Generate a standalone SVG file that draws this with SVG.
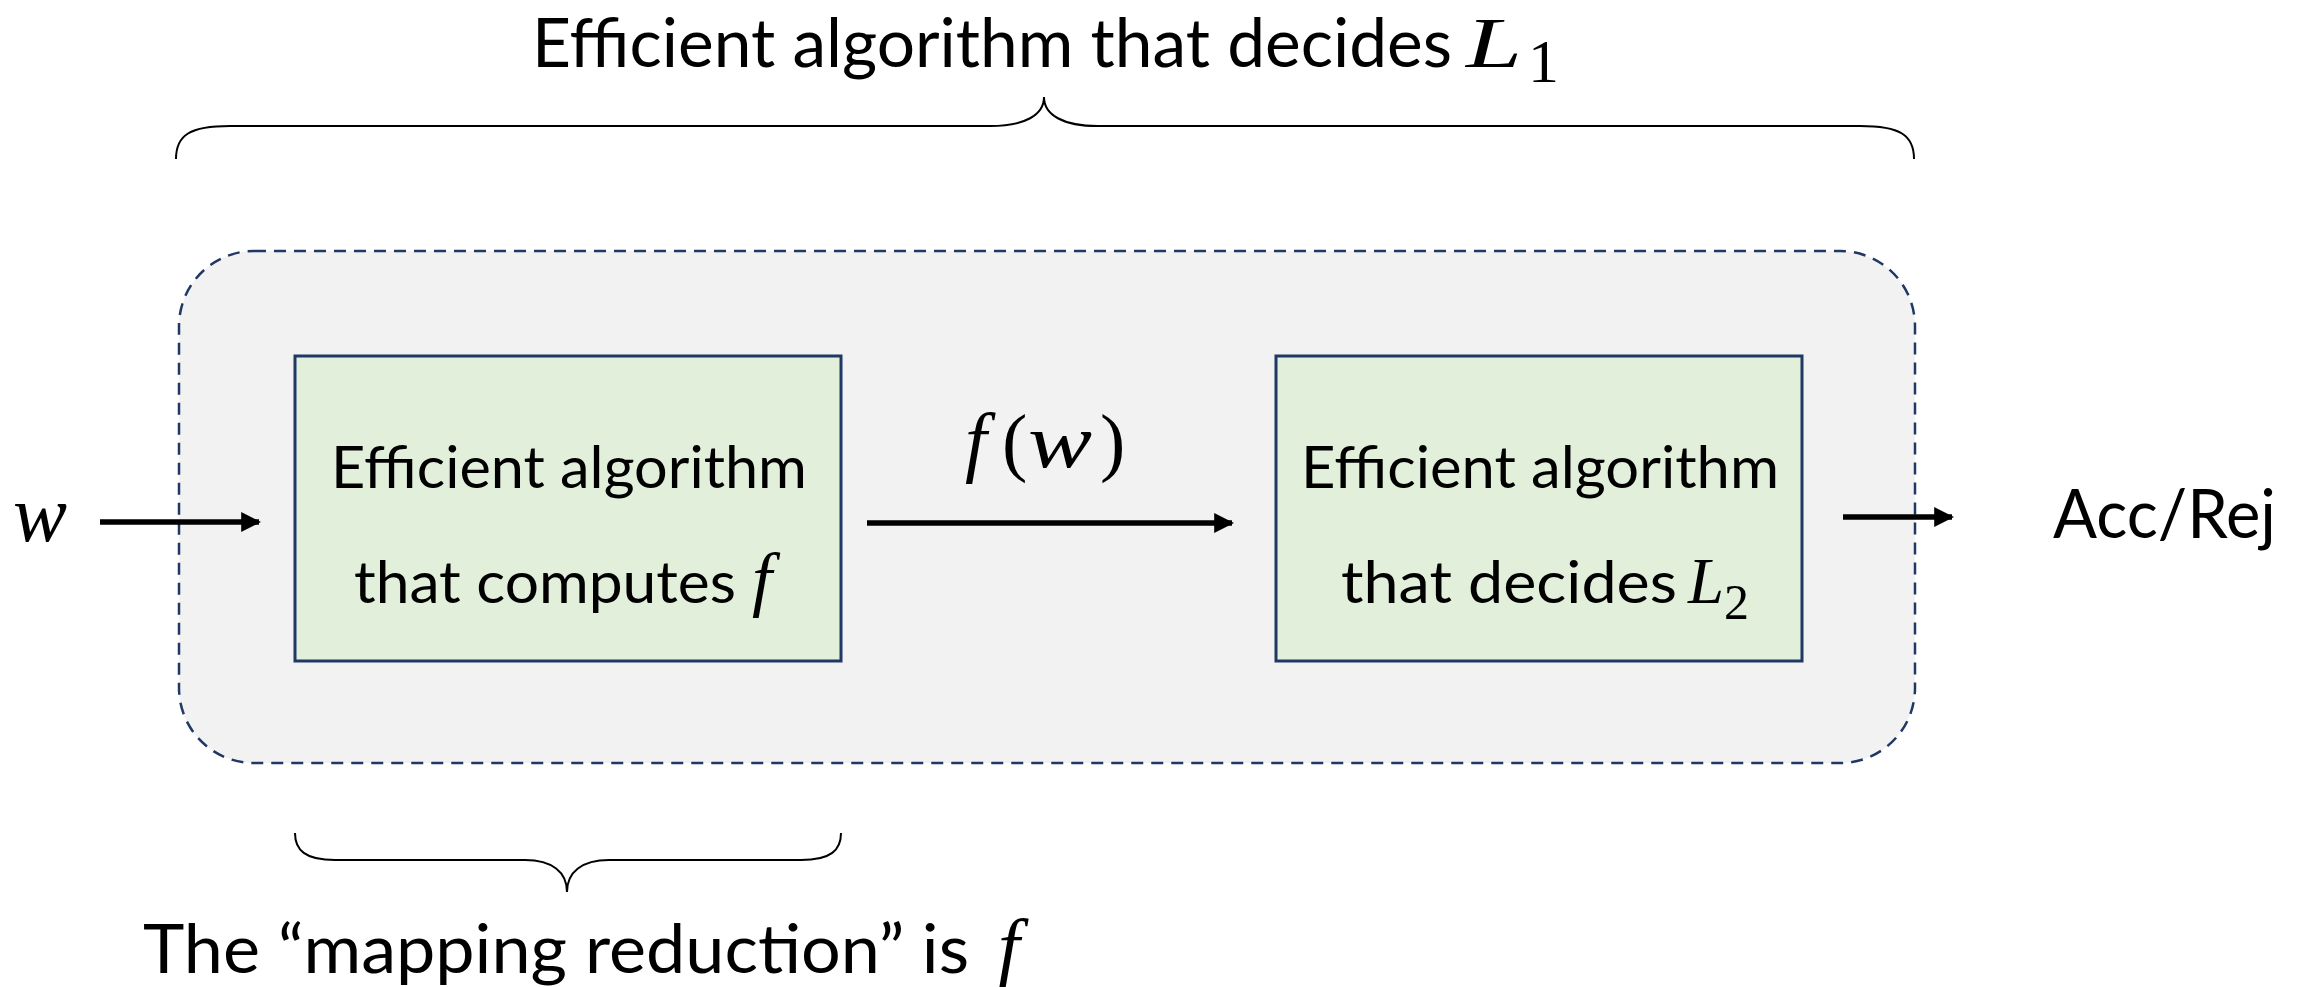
<svg xmlns="http://www.w3.org/2000/svg" width="2305" height="987" viewBox="0 0 2305 987">
<defs>
<style>
.sans{font-family:Lato,"Open Sans","Liberation Sans",sans-serif;fill:#000}
.math{font-family:"Liberation Serif","DejaVu Serif",serif;font-style:italic;fill:#000}
.num{font-family:"Liberation Serif","DejaVu Serif",serif;fill:#000}
.box{fill:#E2EFDA;stroke:#1F3864;stroke-width:3}
.arrow{stroke:#000;stroke-width:5.5;fill:none;marker-end:url(#ah)}
.brace{stroke:#000;stroke-width:2;fill:none}
</style>
<marker id="ah" viewBox="0 0 10 10" refX="9" refY="5" markerWidth="3.6" markerHeight="3.6" orient="auto" markerUnits="strokeWidth">
<path d="M0,0 L10,5 L0,10 z" fill="#000"/>
</marker>
</defs>
<rect width="2305" height="987" fill="#fff"/>
<g id="container">
<rect x="179" y="251" width="1736" height="512" rx="75" ry="75" fill="#F2F2F2" stroke="#1F3864" stroke-width="2.5" stroke-dasharray="12 8"/>
</g>
<g id="title">
<text class="sans" x="532" y="67" font-size="68" textLength="920" lengthAdjust="spacingAndGlyphs">Efficient algorithm that decides</text>
<text class="math" x="1466" y="67" font-size="72" textLength="56" lengthAdjust="spacingAndGlyphs">L</text>
<text class="num" x="1528" y="82" font-size="62">1</text>
</g>
<g id="node-compute">
<rect class="box" x="295" y="356" width="546" height="305"/>
<text class="sans" x="331" y="488" font-size="59" textLength="476" lengthAdjust="spacingAndGlyphs">Efficient algorithm</text>
<text class="sans" x="354" y="603" font-size="59" textLength="382" lengthAdjust="spacingAndGlyphs">that computes</text>
<text class="math" x="752" y="603" font-size="72">f</text>
</g>
<g id="node-decide">
<rect class="box" x="1276" y="356" width="526" height="305"/>
<text class="sans" x="1301" y="488" font-size="59" textLength="478" lengthAdjust="spacingAndGlyphs">Efficient algorithm</text>
<text class="sans" x="1341" y="603" font-size="59" textLength="336" lengthAdjust="spacingAndGlyphs">that decides</text>
<text class="math" x="1688" y="603" font-size="66" textLength="36" lengthAdjust="spacingAndGlyphs">L</text>
<text class="num" x="1724" y="619" font-size="50">2</text>
</g>
<g id="input-w">
<text class="math" x="13" y="541" font-size="80" textLength="54" lengthAdjust="spacingAndGlyphs">w</text>
</g>
<g id="output">
<text class="sans" x="2053" y="538" font-size="68" textLength="223" lengthAdjust="spacingAndGlyphs">Acc/Rej</text>
</g>
<g id="label-fw">
<text class="math" x="965" y="467" font-size="78">f</text>
<text class="num" x="1002" y="467" font-size="76">(</text>
<text class="math" x="1028" y="467" font-size="76" textLength="64" lengthAdjust="spacingAndGlyphs">w</text>
<text class="num" x="1100" y="467" font-size="76">)</text>
</g>
<g id="connectors">
<line class="arrow" x1="100" y1="522" x2="259" y2="522"/>
<line class="arrow" x1="867" y1="523" x2="1232" y2="523"/>
<line class="arrow" x1="1843" y1="517" x2="1952" y2="517"/>
</g>
<g id="braces">
<path class="brace" d="M176,159 C176,135 190,126 230,126 L990,126 C1025,126 1044,115 1044,97 C1044,115 1063,126 1098,126 L1860,126 C1900,126 1914,135 1914,159"/>
<path class="brace" d="M295,833 C295,850 305,860 335,860 L525,860 C552,860 567,872 567,892 C567,872 582,860 609,860 L801,860 C831,860 841,850 841,833"/>
</g>
<g id="caption">
<text class="sans" x="143" y="973" font-size="68" textLength="826" lengthAdjust="spacingAndGlyphs">The “mapping reduction” is</text>
<text class="math" x="998" y="973" font-size="78">f</text>
</g>
</svg>
